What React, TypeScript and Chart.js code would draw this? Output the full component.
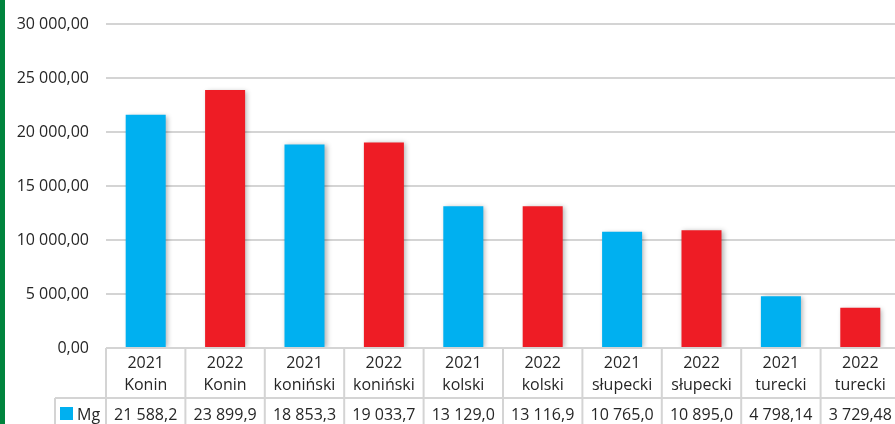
import React, { useEffect, useRef } from "react";
import { Chart, registerables } from "chart.js";

Chart.register(...registerables);

const years = ["2021", "2022", "2021", "2022", "2021", "2022", "2021", "2022", "2021", "2022"];
const regions = ["Konin", "Konin", "koniński", "koniński", "kolski", "kolski", "słupecki", "słupecki", "turecki", "turecki"];
const values = [21588.2, 23899.9, 18853.3, 19033.7, 13129.0, 13116.9, 10765.0, 10895.0, 4798.14, 3729.48];
const valueLabels = ["21 588,2", "23 899,9", "18 853,3", "19 033,7", "13 129,0", "13 116,9", "10 765,0", "10 895,0", "4 798,14", "3 729,48"];
const yTickValues = [0, 5000, 10000, 15000, 20000, 25000, 30000];
const yTickLabels = ["0,00", "5 000,00", "10 000,00", "15 000,00", "20 000,00", "25 000,00", "30 000,00"];
const seriesName = "Mg";

const BLUE = "#00B0F0";
const RED = "#EE1C25";
const GRID = "#d4d4d4";
const TEXT = "#262626";
const FONT = "16px 'Open Sans'";

const barColors = years.map((y) => (y === "2021" ? BLUE : RED));

export default function App() {
  const ref = useRef<HTMLCanvasElement | null>(null);

  useEffect(() => {
    if (!ref.current) return;

    const shadowPlugin = {
      id: "barShadow",
      beforeDatasetsDraw(chart: any) {
        const ctx = chart.ctx;
        ctx.save();
        ctx.shadowColor = "rgba(0,0,0,0.3)";
        ctx.shadowBlur = 5;
        ctx.shadowOffsetX = 2;
        ctx.shadowOffsetY = 1;
      },
      afterDatasetsDraw(chart: any) {
        chart.ctx.restore();
      },
    };

    const tablePlugin = {
      id: "dataTable",
      afterDraw(chart: any) {
        const ctx = chart.ctx;
        const area = chart.chartArea;
        const yScale = chart.scales.y;
        const xScale = chart.scales.x;
        const n = years.length;
        const catW = area.width / n;
        const top = area.bottom;
        const mid = top + 50;
        const bottom = chart.height + 2;

        ctx.save();
        // green side stripe
        ctx.fillStyle = "#00843D";
        ctx.fillRect(0, 0, 5, chart.height);

        // y labels
        ctx.fillStyle = TEXT;
        ctx.font = FONT;
        ctx.textAlign = "right";
        ctx.textBaseline = "middle";
        yTickValues.forEach((v, i) => {
          ctx.fillText(yTickLabels[i], 89, yScale.getPixelForValue(v));
        });

        // table lines
        ctx.strokeStyle = GRID;
        ctx.lineWidth = 2;
        ctx.beginPath();
        ctx.moveTo(area.left, top);
        ctx.lineTo(area.right + 2, top);
        ctx.moveTo(55, mid);
        ctx.lineTo(area.right + 2, mid);
        for (let i = 0; i <= n; i++) {
          const x = area.left + i * catW;
          ctx.moveTo(x, top);
          ctx.lineTo(x, bottom);
        }
        ctx.moveTo(55, mid);
        ctx.lineTo(55, bottom);
        ctx.stroke();

        // table text
        ctx.fillStyle = TEXT;
        ctx.textAlign = "center";
        for (let i = 0; i < n; i++) {
          const cx = xScale.getPixelForValue(i);
          ctx.fillText(years[i], cx, top + 15);
          ctx.fillText(regions[i], cx, top + 37);
          ctx.fillText(valueLabels[i], cx, mid + 17);
        }

        // legend key
        ctx.fillStyle = BLUE;
        ctx.fillRect(60, mid + 9, 13, 13);
        ctx.fillStyle = TEXT;
        ctx.textAlign = "left";
        ctx.fillText(seriesName, 77, mid + 17);
        ctx.restore();
      },
    };

    const chart = new Chart(ref.current, {
      type: "bar",
      data: {
        labels: regions.map((r, i) => years[i] + " " + r),
        datasets: [
          {
            label: seriesName,
            data: values,
            backgroundColor: barColors,
            borderWidth: 0,
            barPercentage: 0.504,
            categoryPercentage: 1,
          },
        ],
      },
      options: {
        responsive: false,
        animation: false,
        layout: { padding: { left: 106, right: 0, top: 24, bottom: 76 } },
        plugins: {
          legend: { display: false },
          tooltip: { enabled: false },
        },
        scales: {
          x: { display: false },
          y: {
            display: true,
            min: 0,
            max: 30000,
            ticks: { display: false, stepSize: 5000 },
            grid: { color: GRID, lineWidth: 2, drawTicks: false },
            border: { display: false },
          },
        },
      },
      plugins: [shadowPlugin, tablePlugin],
    });

    return () => chart.destroy();
  }, []);

  return (
    <div style={{ position: "fixed", left: 0, top: 0, width: 895, height: 424, background: "#fff", overflow: "hidden" }}>
      <canvas ref={ref} width={900} height={424} style={{ display: "block" }} />
    </div>
  );
}
